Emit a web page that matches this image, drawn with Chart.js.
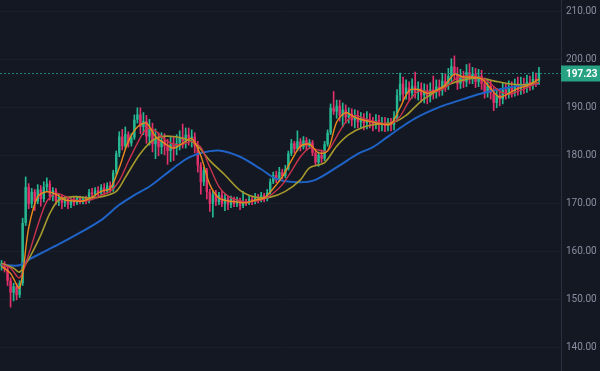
<!DOCTYPE html>
<html>
<head>
<meta charset="utf-8">
<script src="https://cdn.jsdelivr.net/npm/chart.js@4.4.0/dist/chart.umd.min.js"></script>
<style>
  html, body { margin: 0; padding: 0; background: #131823; }
  #wrap { width: 600px; height: 371px; }
</style>
</head>
<body>
<div id="wrap"><canvas id="myChart" width="600" height="371"></canvas></div>
<script>
// candle data (one candle per index)
const opens = [
  157.0,157.6,156.4,154.0,151.5,152.8,151.0,153.5,166.0,
  173.5,170.0,172.5,170.5,173.0,171.0,173.5,174.2,171.5,172.8,170.6,
  171.4,170.2,171.0,169.8,170.8,170.2,171.2,170.4,171.0,170.6,172.4,172.0,
  172.8,172.2,173.4,172.6,173.8,173.0,176.5,180.5,184.0,182.0,184.5,182.6,183.8,187.5,
  188.6,186.0,187.2,184.0,185.6,182.4,183.6,181.8,183.2,182.0,181.0,182.4,181.6,182.6,183.8,183.0,184.4,183.6,184.0,182.0,
  178.0,174.5,177.0,172.5,170.0,172.0,170.4,171.8,170.0,171.2,169.8,171.0,170.0,170.8,169.6,170.6,170.2,171.0,170.4,171.4,170.8,171.8,171.0,
  172.4,174.6,176.0,175.0,176.6,175.8,177.2,180.5,182.6,181.4,183.0,181.8,183.2,182.0,182.8,180.6,178.6,180.2,179.4,182.4,184.8,190.0,
  189.2,190.4,188.4,189.6,188.0,188.8,187.4,188.4,187.0,187.8,186.8,187.6,187.0,186.6,187.4,186.4,186.8,186.2,186.8,186.4,
  188.0,192.6,195.0,192.8,194.2,193.0,194.6,193.2,194.0,192.6,193.6,192.4,193.8,193.2,194.4,193.6,195.6,194.8,196.6,198.6,
  197.0,195.0,196.4,195.4,197.4,196.2,197.0,195.4,196.6,195.0,193.2,194.6,193.0,191.0,192.6,191.8,193.8,193.0,194.2,193.4,194.6,193.8,195.0,194.2,195.4,194.8,196.0,195.6
];
const closes = [
  157.6,156.4,154.0,151.5,152.8,151.0,153.5,166.0,173.5,
  170.0,172.5,170.5,173.0,171.0,173.5,174.2,171.5,172.8,170.6,171.4,
  170.2,171.0,169.8,170.8,170.2,171.2,170.4,171.0,170.6,172.4,172.0,172.8,
  172.2,173.4,172.6,173.8,173.0,176.5,180.5,184.0,182.0,184.5,182.6,183.8,187.5,188.6,
  186.0,187.2,184.0,185.6,182.4,183.6,181.8,183.2,182.0,181.0,182.4,181.6,182.6,183.8,183.0,184.4,183.6,184.0,182.0,178.0,
  174.5,177.0,172.5,170.0,172.0,170.4,171.8,170.0,171.2,169.8,171.0,170.0,170.8,169.6,170.6,170.2,171.0,170.4,171.4,170.8,171.8,171.0,172.4,
  174.6,176.0,175.0,176.6,175.8,177.2,180.5,182.6,181.4,183.0,181.8,183.2,182.0,182.8,180.6,178.6,180.2,179.4,182.4,184.8,190.0,189.2,
  190.4,188.4,189.6,188.0,188.8,187.4,188.4,187.0,187.8,186.8,187.6,187.0,186.6,187.4,186.4,186.8,186.2,186.8,186.4,188.0,
  192.6,195.0,192.8,194.2,193.0,194.6,193.2,194.0,192.6,193.6,192.4,193.8,193.2,194.4,193.6,195.6,194.8,196.6,198.6,197.0,
  195.0,196.4,195.4,197.4,196.2,197.0,195.4,196.6,195.0,193.2,194.6,193.0,191.0,192.6,191.8,193.8,193.0,194.2,193.4,194.6,193.8,195.0,194.2,195.4,194.8,196.0,195.6,197.23
];
const highs = [
  158.2,158.0,157.0,154.6,153.5,153.4,154.0,167.0,175.6,
  174.2,173.2,173.0,174.0,173.8,174.6,175.4,174.8,173.4,173.2,172.0,
  171.8,171.5,171.3,171.2,171.4,171.6,171.6,171.5,171.6,173.0,173.2,173.4,
  173.6,174.0,174.2,174.4,174.6,177.0,181.0,185.0,185.5,186.0,185.0,184.6,188.5,190.0,
  190.0,189.0,188.4,187.6,186.8,185.6,184.8,184.8,184.6,183.4,184.0,184.0,184.4,185.2,186.6,185.8,185.8,185.4,184.8,183.0,
  178.6,177.6,177.4,173.0,172.6,172.8,172.4,172.6,172.0,171.6,171.6,171.4,171.4,171.2,172.6,171.0,171.6,171.6,172.2,172.0,172.4,172.2,173.0,
  175.2,176.6,176.8,177.6,177.2,178.0,181.0,183.4,183.0,185.2,183.6,184.0,183.8,183.4,183.2,181.0,180.8,181.2,183.0,185.4,190.8,193.4,
  191.6,191.6,191.0,190.6,190.0,189.8,189.6,189.4,189.0,188.8,189.2,188.8,188.0,188.6,188.4,188.0,188.0,187.8,187.8,189.2,
  193.8,197.2,196.4,195.8,195.4,196.0,197.4,195.4,195.2,195.0,194.8,195.2,196.6,195.8,195.8,197.2,197.0,198.2,200.2,200.8,
  198.4,198.0,197.6,199.0,199.2,198.4,198.2,198.0,197.8,196.2,196.0,195.8,194.2,194.0,193.8,195.2,195.0,195.6,195.4,196.0,196.4,196.4,196.2,196.8,196.6,197.4,197.2,198.4
];
const lows = [
  156.2,155.8,153.0,148.5,149.8,150.0,150.5,153.0,165.5,
  169.0,169.2,168.6,170.0,169.5,170.4,172.6,170.8,170.6,169.8,169.6,
  169.0,169.4,169.0,169.2,169.6,169.8,170.0,170.0,170.0,170.2,171.4,171.6,
  171.6,171.8,172.0,172.2,172.4,172.6,176.0,179.8,181.2,181.6,181.8,182.0,183.4,186.8,
  184.6,184.4,182.6,182.2,180.8,179.4,180.0,180.4,180.2,178.2,178.8,179.0,180.2,181.2,181.6,181.6,182.2,181.8,180.6,176.6,
  172.0,173.8,171.0,168.4,167.2,169.6,169.8,169.4,168.6,168.8,169.2,169.4,169.4,168.8,169.2,169.6,169.8,169.8,170.0,170.2,170.4,170.4,170.6,
  172.0,174.2,174.4,174.6,175.2,175.4,177.0,180.0,180.6,181.0,181.0,181.4,181.2,181.6,180.0,178.0,177.8,178.6,179.0,182.0,184.4,188.6,
  187.8,187.2,186.0,186.8,186.8,186.2,185.8,185.8,185.8,185.4,185.6,185.8,185.2,185.6,185.0,185.2,185.0,185.2,185.2,185.4,
  187.2,191.4,191.4,191.8,191.6,192.0,192.0,191.6,191.2,191.0,190.8,191.2,191.8,192.0,192.4,192.6,193.4,193.8,195.4,195.8,
  193.8,194.0,194.2,194.4,195.0,195.0,194.2,194.4,193.8,192.0,192.2,191.8,189.4,190.0,190.4,190.8,191.8,192.0,192.2,192.4,192.6,192.8,193.0,193.2,193.6,193.8,194.4,194.8
];

// moving average lines, sampled as [candle index, value]
const maFast = [[0,157.0],[3,155.5],[6,152.5],[9,165.0],[12,171.5],[15,172.5],[18,172.0],[21,170.8],[24,170.6],[27,170.6],[30,171.4],[33,172.6],[36,173.2],[39,177.5],[42,183.0],[45,186.0],[48,186.8],[51,184.0],[54,182.6],[57,181.6],[60,182.6],[63,183.6],[66,180.0],[69,174.0],[72,171.2],[75,170.6],[78,170.4],[81,170.2],[84,170.8],[87,171.2],[90,173.2],[93,175.6],[96,179.0],[99,182.0],[102,182.4],[105,180.6],[108,181.0],[111,187.0],[114,189.0],[117,188.0],[120,187.4],[123,187.0],[126,186.6],[129,186.6],[132,190.0],[135,193.6],[138,193.8],[141,193.0],[144,193.6],[147,194.8],[150,197.0],[153,196.4],[156,196.4],[159,196.0],[162,194.0],[165,192.2],[168,193.0],[171,194.0],[174,194.6],[177,195.6],[178,196.0]];
const maMid = [[0,157.4],[3,156.6],[6,154.6],[9,159.5],[12,165.5],[15,170.5],[18,172.2],[21,171.6],[24,170.8],[27,170.6],[30,170.9],[33,171.8],[36,172.6],[39,174.8],[42,178.8],[45,182.6],[48,185.6],[51,185.2],[54,183.4],[57,182.4],[60,182.4],[63,183.0],[66,181.8],[69,177.6],[72,173.6],[75,171.6],[78,170.8],[81,170.4],[84,170.6],[87,171.0],[90,172.2],[93,174.0],[96,176.8],[99,179.8],[102,181.6],[105,181.2],[108,181.0],[111,184.0],[114,187.0],[117,188.4],[120,187.8],[123,187.2],[126,186.8],[129,186.6],[132,188.2],[135,191.4],[138,193.4],[141,193.4],[144,193.4],[147,194.2],[150,195.8],[153,196.6],[156,196.4],[159,196.2],[162,195.0],[165,193.4],[168,192.8],[171,193.4],[174,194.2],[177,195.0],[178,195.2]];
const maSlow = [[0,157.6],[4,156.6],[6,155.8],[9,158.5],[13,163.5],[16,168.0],[19,170.8],[24,171.5],[29,171.2],[34,171.6],[38,172.6],[41,175.5],[46,180.5],[51,183.6],[57,184.0],[64,182.6],[69,179.0],[74,176.0],[79,172.8],[84,171.4],[89,171.4],[94,172.6],[99,175.0],[102,177.5],[107,178.6],[111,182.0],[115,184.4],[120,186.0],[125,186.6],[130,187.0],[134,188.4],[139,191.4],[144,193.4],[148,194.8],[153,195.8],[158,196.2],[163,195.6],[168,195.0],[173,194.8],[178,195.2]];
const maLong = [[0,157.3],[6,157.2],[9,158.4],[14,160.0],[19,161.6],[26,164.0],[33,166.6],[39,169.8],[44,171.8],[49,173.6],[54,176.0],[59,178.4],[62,179.6],[66,180.6],[72,181.1],[79,179.8],[86,177.2],[91,175.2],[98,174.5],[104,175.0],[112,178.0],[118,180.4],[123,181.8],[128,184.0],[133,186.2],[137,187.8],[143,189.6],[148,190.8],[153,191.8],[158,192.8],[163,193.6],[168,194.2],[173,194.8],[178,195.0]];

const priceTicks = [210, 200, 190, 180, 170, 160, 150, 140];

document.addEventListener('DOMContentLoaded', function () {
    const ctx = document.getElementById('myChart').getContext('2d');
    const UP = '#26b892';
    const DOWN = '#e2306a';

    const candleColors = closes.map((c, i) => c >= opens[i] ? UP : DOWN);
    const bodies = closes.map((c, i) => ({ x: i, y: [opens[i], c] }));
    const wicks = closes.map((c, i) => ({ x: i, y: [lows[i], highs[i]] }));
    const toPoints = arr => arr.map(p => ({ x: p[0], y: p[1] }));

    const lineDs = (data, color, width) => ({
        type: 'line',
        data: toPoints(data),
        borderColor: color,
        borderWidth: width,
        pointRadius: 0,
        tension: 0.3,
        fill: false,
        order: 0
    });

    // background + last price line and tag
    const lastPrice = {
        id: 'lastPrice',
        beforeDraw(chart) {
            const c = chart.ctx;
            c.save();
            c.fillStyle = '#131823';
            c.fillRect(0, 0, chart.width, chart.height);
            c.restore();
        },
        afterDatasetsDraw(chart) {
            const c = chart.ctx;
            const area = chart.chartArea;
            const last = closes[closes.length - 1];
            const y = Math.round(chart.scales.y.getPixelForValue(last)) + 0.5;
            c.save();
            c.setLineDash([2, 2]);
            c.strokeStyle = 'rgba(38, 166, 154, 0.75)';
            c.lineWidth = 1;
            c.beginPath();
            c.moveTo(area.left, y);
            c.lineTo(area.right, y);
            c.stroke();
            c.setLineDash([]);
            c.fillStyle = '#27a383';
            c.fillRect(area.right, y - 8, chart.width - area.right, 16);
            c.fillStyle = '#ffffff';
            c.font = 'bold 10px Roboto';
            c.textBaseline = 'middle';
            c.fillText(last.toFixed(2), area.right + 5, y + 0.5);
            c.restore();
        }
    };

    new Chart(ctx, {
        type: 'bar',
        data: {
            datasets: [
                lineDs(maFast, '#e8891c', 1.4),
                lineDs(maMid, '#c9344c', 1.4),
                lineDs(maSlow, '#a69a2c', 1.6),
                lineDs(maLong, '#1f63c6', 2),
                {
                    data: bodies,
                    backgroundColor: candleColors,
                    borderWidth: 0,
                    barPercentage: 0.8,
                    categoryPercentage: 1,
                    grouped: false,
                    order: 1
                },
                {
                    data: wicks,
                    backgroundColor: candleColors,
                    borderWidth: 0,
                    barThickness: 1,
                    grouped: false,
                    order: 2
                }
            ]
        },
        options: {
            responsive: false,
            animation: false,
            devicePixelRatio: 1,
            layout: { padding: 0 },
            plugins: {
                legend: { display: false },
                tooltip: { enabled: false }
            },
            scales: {
                x: {
                    type: 'linear',
                    display: false,
                    min: -0.5,
                    max: 185.3,
                    offset: false
                },
                y: {
                    position: 'right',
                    min: 135.2,
                    max: 212.43,
                    afterBuildTicks: s => { s.ticks = priceTicks.map(v => ({ value: v })); },
                    afterFit: s => { s.width = 39; s.paddingTop = 0; s.paddingBottom = 0; },
                    grid: { color: '#1a1f2e', drawTicks: false },
                    border: { color: '#2a2f40' },
                    ticks: {
                        color: '#8a8fa3',
                        font: { family: 'Roboto', size: 10 },
                        padding: 5,
                        callback: v => v.toFixed(2)
                    }
                }
            }
        },
        plugins: [lastPrice]
    });
});
</script>
</body>
</html>
